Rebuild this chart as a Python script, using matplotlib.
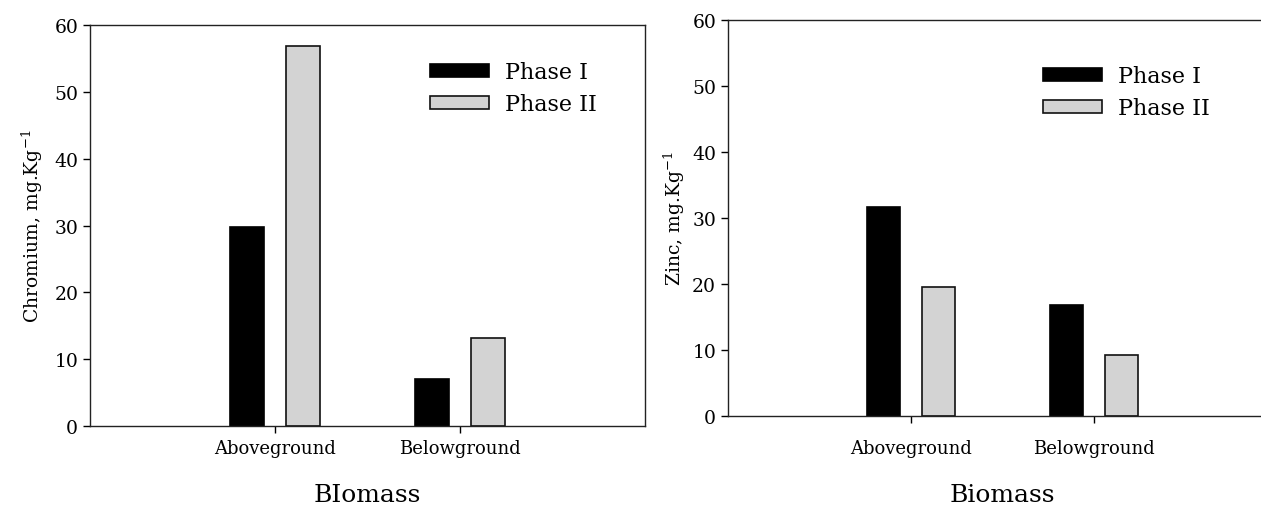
import numpy as np
import matplotlib
matplotlib.use('Agg')
import matplotlib.pyplot as plt

plt.rcParams['font.family'] = 'DejaVu Serif'
plt.rcParams['mathtext.fontset'] = 'dejavuserif'

# Data
categories = ['Aboveground', 'Belowground']
series = ['Phase I', 'Phase II']
chromium_p1 = [29.8, 7.1]
chromium_p2 = [56.9, 13.2]
zinc_p1 = [31.6, 16.9]
zinc_p2 = [19.5, 9.2]

fig = plt.figure(figsize=(12.61, 5.06), dpi=100)
ax1 = fig.add_axes([0.0714, 0.1561, 0.4401, 0.7925])
ax2 = fig.add_axes([0.5773, 0.1753, 0.4354, 0.7838])

x = np.arange(len(categories))
w = 0.184
off = 0.15


def draw(ax, p1, p2, ylabel, xlabel, leg_anchor, xpad, xlpad, ylpad):
    ax.bar(x - off, p1, w, color='black', edgecolor='black', linewidth=1.2, label=series[0])
    ax.bar(x + off, p2, w, color='#d3d3d3', edgecolor='#111111', linewidth=1.2, label=series[1])
    ax.set_xlim(-1, 2)
    ax.set_ylim(0, 60)
    ax.set_yticks(range(0, 61, 10))
    ax.set_xticks(x)
    ax.set_xticklabels(categories, fontsize=13)
    ax.tick_params(axis='y', labelsize=13.5, direction='out', length=5, width=1)
    ax.tick_params(axis='x', direction='out', length=5, width=1, pad=xpad)
    ax.set_ylabel(ylabel, fontsize=13.5, labelpad=ylpad)
    ax.set_xlabel(xlabel, fontsize=18, labelpad=xlpad)
    for s in ax.spines.values():
        s.set_linewidth(1.0)
        s.set_color('#222222')
    ax.legend(loc='upper left', bbox_to_anchor=leg_anchor, frameon=False, fontsize=16,
              borderpad=0, borderaxespad=0, handlelength=2.65, handleheight=0.55,
              handletextpad=0.7, labelspacing=0.45)


draw(ax1, chromium_p1, chromium_p2, 'Chromium, mg.Kg$^{-1}$', 'BIomass', (0.613, 0.910),
     4.5, 18.4, 6.4)
draw(ax2, zinc_p1, zinc_p2, 'Zinc, mg.Kg$^{-1}$', 'Biomass', (0.574, 0.885),
     11.6, 18.4, 3.5)

fig.savefig('out.png', dpi=100)
